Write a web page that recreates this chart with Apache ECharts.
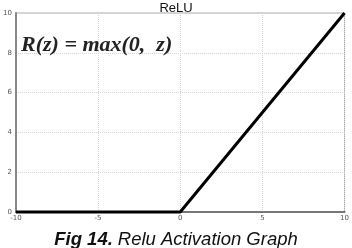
<!DOCTYPE html>
<html>
<head>
<meta charset="utf-8">
<script src="https://cdn.jsdelivr.net/npm/echarts@6/dist/echarts.min.js"></script>
<style>
  html, body { margin: 0; padding: 0; background: #fff; }
  #chart { width: 352px; height: 248px; }
</style>
</head>
<body>
<div id="chart"></div>
<script>
// ReLU curve: R(z) = max(0, z)
var zValues = [-10, 0, 10]
var reluValues = [0, 0, 10]
var xTicks = [-10, -5, 0, 5, 10]
var yTicks = [0, 2, 4, 6, 8, 10]

var chart = echarts.init(document.getElementById('chart'))

var points = zValues.map(function (z, i) { return [z, reluValues[i]] })

chart.setOption({
  animation: false,
  title: [{
    text: 'ReLU',
    left: 'center',
    top: -3,
    textStyle: { fontFamily: 'Liberation Sans', fontSize: 13, fontWeight: 'normal', color: '#111' }
  }, {
    text: 'R(z) = max(0,  z)',
    left: 16,
    top: 29,
    textStyle: { fontFamily: 'Liberation Serif', fontStyle: 'italic', fontSize: 22, fontWeight: 'bold', color: '#222' }
  }, {
    text: '{b|Fig 14.} {n|Relu Activation Graph}',
    left: 'center',
    top: 225,
    textStyle: {
      rich: {
        b: { fontFamily: 'Liberation Sans', fontStyle: 'italic', fontWeight: 'bold', fontSize: 18.5, color: '#111' },
        n: { fontFamily: 'Liberation Sans', fontStyle: 'italic', fontWeight: 'normal', fontSize: 18.5, color: '#111' }
      }
    }
  }],
  grid: { left: 13, right: 4, top: 13, bottom: 36, show: true, borderColor: '#aaa', borderWidth: 1 },
  xAxis: {
    type: 'value',
    min: xTicks[0],
    max: xTicks[xTicks.length - 1],
    interval: 5,
    axisLine: { onZero: false, lineStyle: { color: '#777', width: 2 } },
    axisTick: { show: false },
    axisLabel: { fontSize: 7, color: '#555', margin: 3, fontFamily: 'DejaVu Sans' },
    splitLine: { lineStyle: { color: '#d4d4d4', type: 'dotted' } }
  },
  yAxis: {
    type: 'value',
    min: yTicks[0],
    max: yTicks[yTicks.length - 1],
    interval: 2,
    axisLine: { show: true, onZero: false, lineStyle: { color: '#888', width: 2 } },
    axisTick: { show: false },
    axisLabel: { fontSize: 7, color: '#555', margin: 4, fontFamily: 'DejaVu Sans' },
    splitLine: { lineStyle: { color: '#d4d4d4', type: 'dotted' } }
  },
  series: [{
    type: 'line',
    data: points,
    showSymbol: false,
    lineStyle: { color: '#000', width: 3 },
    clip: false
  }]
})
</script>
</body>
</html>
